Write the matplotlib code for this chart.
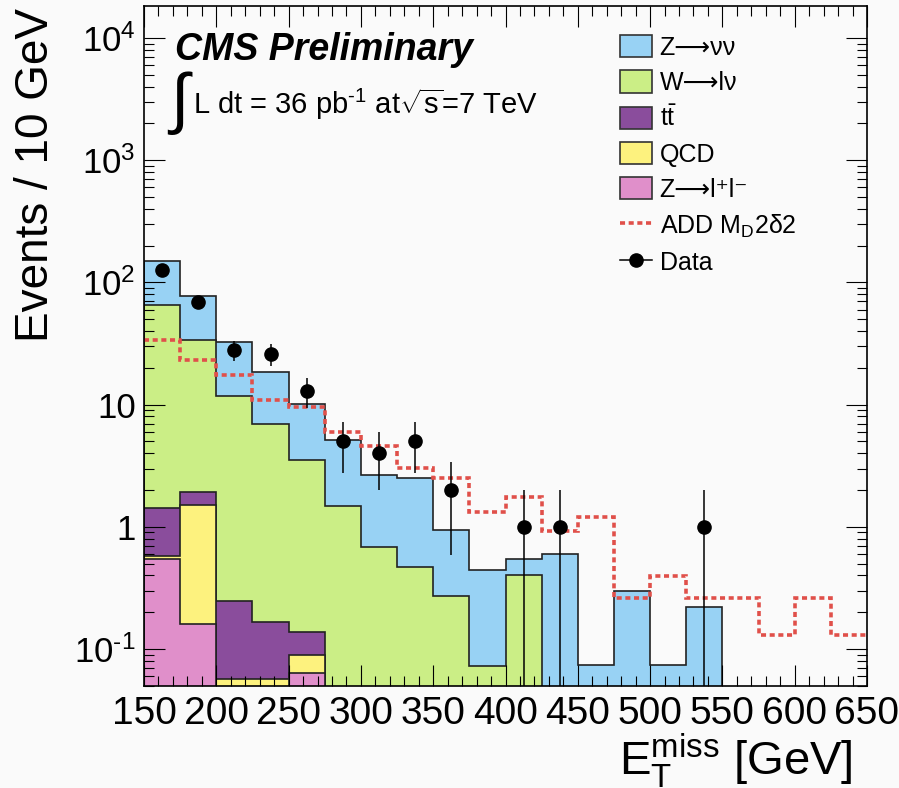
import numpy as np
import matplotlib
matplotlib.use("Agg")
import matplotlib.pyplot as plt
from matplotlib.patches import Patch
from matplotlib.lines import Line2D
from matplotlib.ticker import FixedLocator, LogLocator, NullFormatter, MultipleLocator

plt.rcParams["font.family"] = ["Liberation Sans", "DejaVu Sans"]
plt.rcParams["mathtext.fontset"] = "custom"
plt.rcParams["mathtext.rm"] = "Liberation Sans"
plt.rcParams["mathtext.it"] = "Liberation Sans:italic"
plt.rcParams["mathtext.bf"] = "Liberation Sans:bold"
plt.rcParams["mathtext.sf"] = "Liberation Sans"

# MET bins, 25 GeV wide
bin_edges = [150, 175, 200, 225, 250, 275, 300, 325, 350, 375, 400,
             425, 450, 475, 500, 525, 550, 575, 600, 625, 650]
bin_centers = [162.5, 187.5, 212.5, 237.5, 262.5, 287.5, 312.5, 337.5, 362.5, 387.5,
               412.5, 437.5, 462.5, 487.5, 512.5, 537.5, 562.5, 587.5, 612.5, 637.5]

# background components (events per bin), bottom of stack first
zll = [0.55, 0.16, 0, 0, 0.064, 0, 0, 0, 0, 0, 0, 0, 0, 0, 0, 0, 0, 0, 0, 0]
qcd = [0.025, 1.34, 0.057, 0.057, 0.026, 0, 0, 0, 0, 0, 0, 0, 0, 0, 0, 0, 0, 0, 0, 0]
ttbar = [0.86, 0.44, 0.19, 0.11, 0.049, 0, 0, 0, 0, 0, 0, 0, 0, 0, 0, 0, 0, 0, 0, 0]
wlnu = [63.6, 31.6, 11.5, 6.8, 3.4, 1.49, 0.68, 0.47, 0.27, 0.072,
        0.40, 0, 0, 0, 0, 0, 0, 0, 0, 0]
znunu = [86, 43.7, 20.7, 11.6, 6.6, 3.68, 1.97, 2.05, 0.68, 0.37,
         0.15, 0.60, 0.074, 0.30, 0.074, 0.22, 0, 0, 0, 0]

# signal ADD MD=2 TeV, delta=2
add_signal = [34.1, 23.4, 17.6, 10.9, 9.5, 5.97, 4.55, 3.03, 2.52, 1.32,
              1.74, 0.92, 1.2, 0.263, 0.397, 0.263, 0.263, 0.13, 0.263, 0.13]

# observed data
data_counts = [126, 69, 28, 26, 13, 5, 4, 5, 2, 0, 1, 1, 0, 0, 0, 1, 0, 0, 0, 0]

labels = ["Z\u27f6\u03bd\u03bd", "W\u27f6l\u03bd", "t$\\mathregular{\\bar{t}}$", "QCD",
          "Z\u27f6l\u207al\u207b"]
colors = ["#98d2f4", "#cbee86", "#8a4d9c", "#fdf27e", "#e08fca"]
ytick_vals = [0.1, 1, 10, 100, 1000, 10000]
ytick_labels = ["$\\mathregular{10^{\\text{-}1}}$", "1", "10", "$\\mathregular{10^{2}}$",
                "$\\mathregular{10^{3}}$", "$\\mathregular{10^{4}}$"]

W, H = 899, 788
fig = plt.figure(figsize=(W / 100, H / 100), dpi=100, facecolor="#fafafa")
ax = fig.add_axes([144 / W, 1 - 686 / H, (867 - 144) / W, (686 - 6) / H])
ax.set_facecolor("#fafafa")
ax.set_yscale("log")

# stacked backgrounds: draw cumulative totals from the top down
stack = np.array([zll, qcd, ttbar, wlnu, znunu])
cum = np.cumsum(stack, axis=0)
stack_colors = colors[::-1]  # zll, qcd, ttbar, wlnu, znunu
for i in reversed(range(len(stack))):
    ax.stairs(np.maximum(cum[i], 1e-4), bin_edges, baseline=1e-4, fill=True,
              facecolor=stack_colors[i], edgecolor="#222222", linewidth=1.2)

red = "#e0504a"
ax.stairs(add_signal, bin_edges, baseline=None, color=red, linewidth=2.6,
          linestyle=(0, (1.4, 1.0)))

dc = np.array(data_counts, dtype=float)
xc = np.array(bin_centers)
m = dc > 0
err = np.sqrt(dc[m])
ax.errorbar(xc[m], dc[m], yerr=err, fmt="o", color="black", ms=9.5,
            elinewidth=1.1, capsize=0)

ax.set_xlim(150, 650)
ax.set_ylim(0.0498, 1.83e4)

ax.xaxis.set_major_locator(MultipleLocator(50))
ax.xaxis.set_minor_locator(MultipleLocator(10))
ax.yaxis.set_major_locator(FixedLocator(ytick_vals))
ax.yaxis.set_minor_locator(LogLocator(base=10, subs=np.arange(2, 10)))
ax.yaxis.set_minor_formatter(NullFormatter())
ax.set_yticklabels(ytick_labels)
ax.tick_params(which="both", direction="in", top=True, right=True, width=0.8, color="black")
ax.tick_params(which="major", length=15)
ax.tick_params(which="minor", length=7.5)
ax.tick_params(axis="y", labelsize=25, pad=6)
ax.tick_params(axis="x", labelsize=28, pad=7)
for lab in ax.get_xticklabels():
    lab.set_family(["Liberation Sans Narrow", "Liberation Sans"])
for sp in ax.spines.values():
    sp.set_linewidth(1.2)

# axis titles
fig.text(36 / W, 1 - 8 / H, "Events / 10 GeV", rotation=90, fontsize=33,
         ha="center", va="top")
fig.text(853 / W, 1 - 775 / H,
         "E$_{\\mathregular{T}}^{\\mathregular{miss}}$ [GeV]", fontsize=34,
         ha="right", va="baseline")

# header texts
fig.text(175 / W, 1 - 60 / H, "CMS Preliminary", fontsize=27, fontweight="bold",
         fontstyle="italic", va="baseline")
fig.text(170 / W, 1 - 121 / H, "\u222b", fontsize=48, va="baseline")
fig.text(193 / W, 1 - 114 / H,
         "L dt = 36 pb$^{\\mathregular{\\text{-}1}}$ at$\\mathregular{\\sqrt{s}}$=7 TeV",
         fontsize=21, va="baseline")

# legend
handles = [Patch(facecolor=c, edgecolor="#333333", linewidth=1.2) for c in colors]
handles.append(Line2D([], [], color=red, linewidth=2.6, linestyle=(0, (1.4, 1.0))))
handles.append(Line2D([], [], color="black", linewidth=1.1, marker="o", ms=9.5))
leg_labels = labels + ["ADD M$_{\\mathregular{D}}$2\u03b42", "Data"]
fig.legend(handles, leg_labels, loc="upper left",
           bbox_to_anchor=(620 / W, 1 - 35 / H), bbox_transform=fig.transFigure,
           frameon=False, fontsize=18, handlelength=1.28, handleheight=1.0,
           labelspacing=0.42, handletextpad=0.3, borderpad=0, borderaxespad=0)

fig.savefig("out.png", dpi=100, facecolor=fig.get_facecolor())
